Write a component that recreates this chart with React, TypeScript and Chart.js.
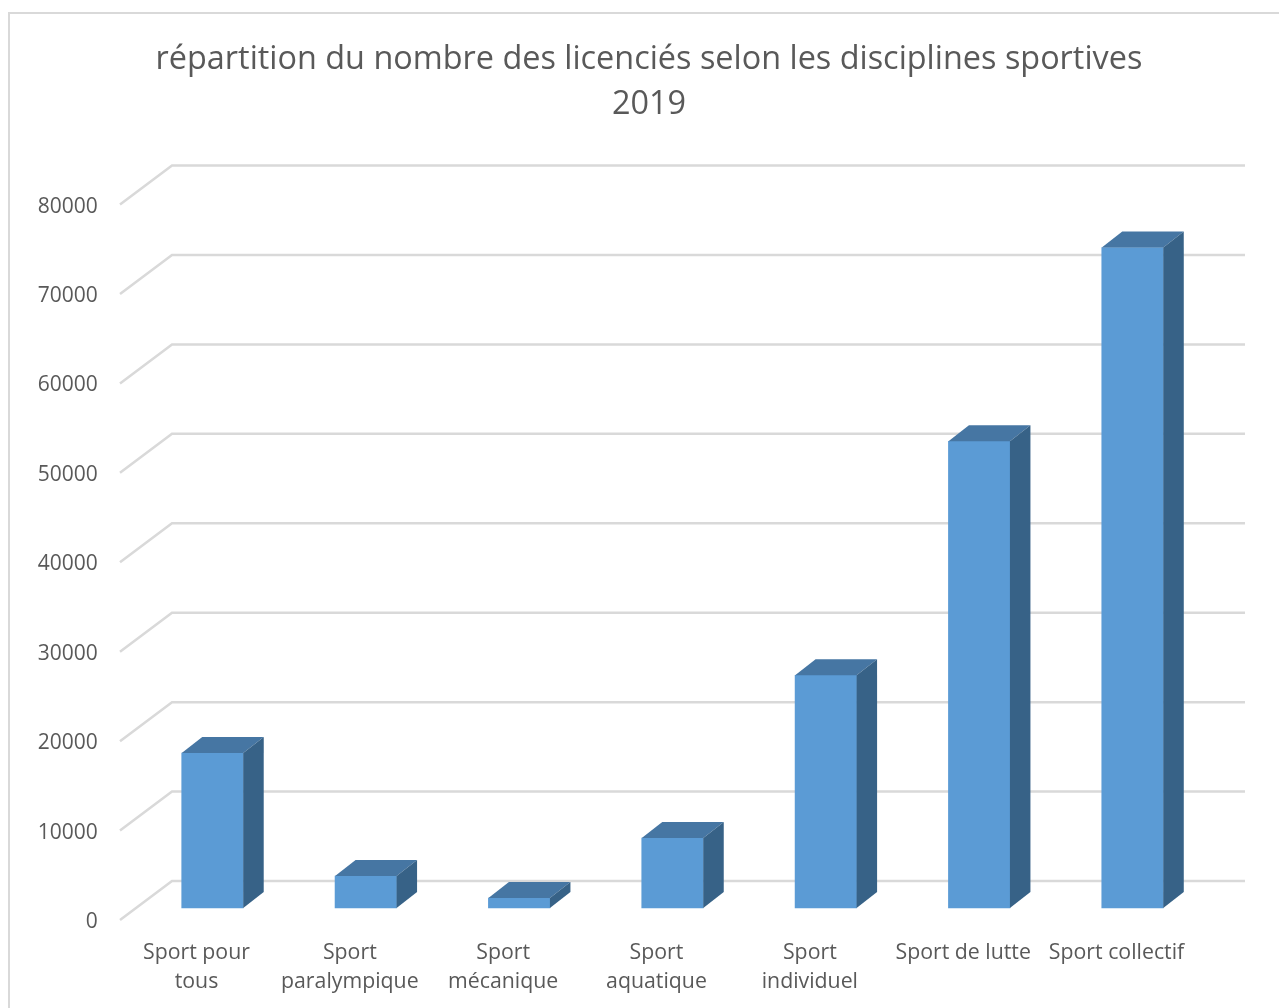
import React, { useEffect, useRef } from "react";
import { Chart, registerables } from "chart.js";

Chart.register(...registerables);

const titleLines = ["répartition du nombre des licenciés selon les disciplines sportives", "2019"];
const categories = [
  ["Sport pour", "tous"],
  ["Sport", "paralympique"],
  ["Sport", "mécanique"],
  ["Sport", "aquatique"],
  ["Sport", "individuel"],
  "Sport de lutte",
  "Sport collectif",
];
const licencies = [17320, 3580, 1120, 7820, 26030, 52180, 73860];
const yMax = 80000;
const yStep = 10000;

const FONT = "'Open Sans', sans-serif";
const TEXT = "#595959";
const GRID = "#D9D9D9";
const FRONT = "#5B9BD5";
const TOP = "#4676A3";
const SIDE = "#376287";
const BORDER_COLOR = "#D9D9D9";

const WALL_DX = 52;
const WALL_DY = 39;
const WALL_LEFT = 120;
const WALL_RIGHT = 1245;
const BAR_DX = 20.5;
const BAR_DY = 16;
const BASE_LIFT = 12;

const frame3d = {
  id: "frame3d",
  afterLayout(chart: any) {
    // the value axis keeps its labels outside the narrow box it reserves
    chart.scales.y.left = 20;
  },
  beforeDraw(chart: any) {
    const { ctx, scales } = chart;
    const y = scales.y;
    ctx.save();
    // panel border
    ctx.strokeStyle = BORDER_COLOR;
    ctx.lineWidth = 2;
    ctx.beginPath();
    ctx.moveTo(9, 1008);
    ctx.lineTo(9, 13);
    ctx.lineTo(1279, 13);
    ctx.stroke();
    // walls
    ctx.strokeStyle = GRID;
    ctx.lineWidth = 2.5;
    for (let v = 0; v <= yMax; v += yStep) {
      const py = y.getPixelForValue(v);
      ctx.beginPath();
      ctx.moveTo(WALL_LEFT, py);
      ctx.lineTo(WALL_LEFT + WALL_DX, py - WALL_DY);
      ctx.lineTo(WALL_RIGHT, py - WALL_DY);
      ctx.stroke();
    }
    ctx.restore();
  },
  afterDatasetsDraw(chart: any) {
    const { ctx } = chart;
    const bars = chart.getDatasetMeta(0).data;
    ctx.save();
    bars.forEach((bar: any) => {
      const p = bar.getProps(["x", "y", "base", "width"], true);
      const l = p.x - p.width / 2;
      const r = p.x + p.width / 2;
      ctx.fillStyle = TOP;
      ctx.beginPath();
      ctx.moveTo(l, p.y);
      ctx.lineTo(l + BAR_DX, p.y - BAR_DY);
      ctx.lineTo(r + BAR_DX, p.y - BAR_DY);
      ctx.lineTo(r, p.y);
      ctx.closePath();
      ctx.fill();
      ctx.fillStyle = SIDE;
      ctx.beginPath();
      ctx.moveTo(r, p.y);
      ctx.lineTo(r + BAR_DX, p.y - BAR_DY);
      ctx.lineTo(r + BAR_DX, p.base - BAR_DY);
      ctx.lineTo(r, p.base);
      ctx.closePath();
      ctx.fill();
    });
    ctx.restore();
  },
};

export default function App() {
  const ref = useRef<HTMLCanvasElement | null>(null);

  useEffect(() => {
    const liftValue = (BASE_LIFT / 715.5) * yMax;
    const zeroPadding = (scale: any) => {
      scale.paddingLeft = 0;
      scale.paddingRight = 0;
      scale.paddingTop = 0;
      scale.paddingBottom = 0;
    };
    const chart = new Chart(ref.current as HTMLCanvasElement, {
      type: "bar",
      data: {
        labels: categories as any,
        datasets: [
          {
            label: "Licenciés",
            data: licencies,
            yAxisID: "yBars",
            backgroundColor: FRONT,
            barThickness: 61.5,
          },
        ],
      },
      plugins: [frame3d],
      options: {
        animation: false,
        responsive: false,
        maintainAspectRatio: false,
        layout: { padding: { left: 88.8, right: 69.8, top: 0, bottom: 0 } },
        plugins: {
          legend: { display: false },
          tooltip: { enabled: false },
          title: {
            display: true,
            text: titleLines,
            color: TEXT,
            font: { family: FONT, size: 32.4, weight: "normal", lineHeight: 1.39 },
            padding: { top: 37.5, bottom: 77 },
          },
        },
        scales: {
          x: {
            grid: { display: false, drawTicks: false },
            border: { display: false },
            afterFit(scale: any) {
              scale.height = 88;
              zeroPadding(scale);
            },
            ticks: {
              color: TEXT,
              font: { family: FONT, size: 21.3, lineHeight: 1.33 },
              autoSkip: false,
              maxRotation: 0,
              minRotation: 0,
              padding: 19,
              labelOffset: -16,
            },
          },
          y: {
            min: 0,
            max: yMax,
            grid: { display: false, drawTicks: false },
            border: { display: false },
            afterFit(scale: any) {
              scale.width = 47;
              zeroPadding(scale);
            },
            ticks: {
              stepSize: yStep,
              color: TEXT,
              font: { family: FONT, size: 21 },
              padding: 38,
              labelOffset: 2,
              callback: (value: any) => String(value),
            },
          },
          yBars: {
            display: false,
            min: -liftValue,
            max: yMax - liftValue,
          },
        },
      },
    } as any);
    return () => chart.destroy();
  }, []);

  return (
    <div style={{ position: "fixed", left: 0, top: 0, width: 1279, height: 1008, background: "#fff" }}>
      <canvas ref={ref} width={1279} height={1008} style={{ display: "block", width: 1279, height: 1008 }} />
    </div>
  );
}
